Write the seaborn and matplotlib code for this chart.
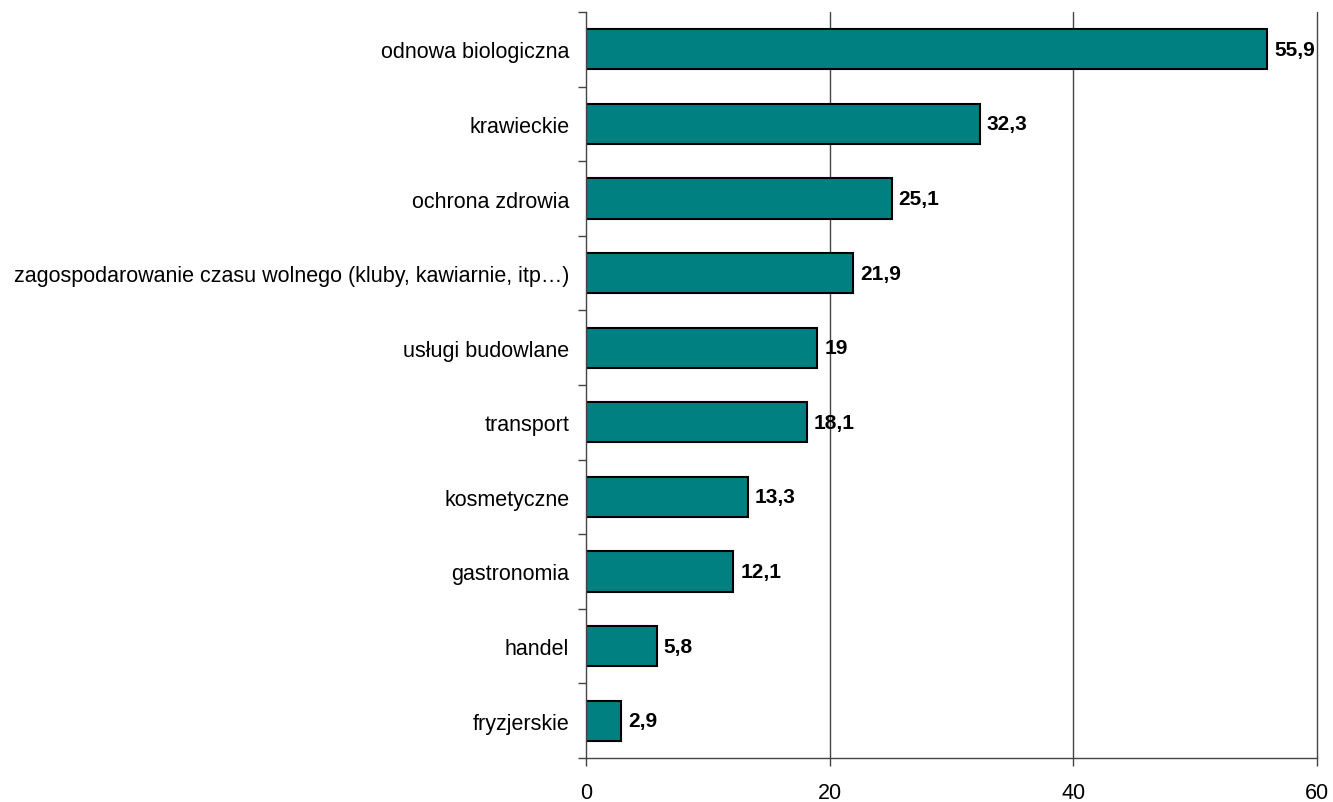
import matplotlib
matplotlib.use('Agg')
import matplotlib.pyplot as plt
import seaborn as sns
import pandas as pd
import numpy as np
from matplotlib.ticker import FixedLocator

# dane z wykresu
categories = [
    'odnowa biologiczna',
    'krawieckie',
    'ochrona zdrowia',
    'zagospodarowanie czasu wolnego (kluby, kawiarnie, itp…)',
    'usługi budowlane',
    'transport',
    'kosmetyczne',
    'gastronomia',
    'handel',
    'fryzjerskie',
]
values = [55.9, 32.3, 25.1, 21.9, 19, 18.1, 13.3, 12.1, 5.8, 2.9]
value_labels = ['55,9', '32,3', '25,1', '21,9', '19', '18,1', '13,3', '12,1', '5,8', '2,9']
x_ticks = [0, 20, 40, 60]

df = pd.DataFrame({'kategoria': categories, 'wartosc': values})

sns.set_style('white')
plt.rcParams['font.family'] = ['Liberation Sans', 'DejaVu Sans']
plt.rcParams['text.color'] = 'black'
plt.rcParams['xtick.color'] = '#444444'
plt.rcParams['ytick.color'] = '#444444'
plt.rcParams['xtick.labelcolor'] = 'black'
plt.rcParams['ytick.labelcolor'] = 'black'

fig = plt.figure(figsize=(13.33, 8.03), dpi=100)
ax = fig.add_axes([0.4396, 0.0548, 0.988 - 0.4396, 0.9838 - 0.0548])

sns.barplot(data=df, y='kategoria', x='wartosc', orient='h', color='#008080',
            edgecolor='black', linewidth=1.5, width=0.54, saturation=1, ax=ax)

ax.set_xlim(0, 60)
ax.set_ylim(len(categories) - 0.5, -0.5)
ax.set_xticks(x_ticks)
ax.set_xticklabels([str(t) for t in x_ticks], fontsize=15.5)
ax.set_xlabel('')
ax.set_ylabel('')

# linie siatki
for t in x_ticks[1:]:
    ax.axvline(t, color='#444444', linewidth=1, zorder=0, clip_on=False)

for s in ['top', 'right']:
    ax.spines[s].set_visible(False)
for s in ['left', 'bottom']:
    ax.spines[s].set_color('#444444')
    ax.spines[s].set_linewidth(1)

ax.tick_params(axis='y', which='major', left=False, length=0, labelsize=15.5, pad=12)
ax.yaxis.set_minor_locator(FixedLocator(np.arange(-0.5, len(categories), 1)))
ax.tick_params(axis='y', which='minor', left=True, length=6, width=1, direction='out')
ax.tick_params(axis='x', which='major', bottom=True, length=6, width=1, direction='out', pad=11)

for i, (v, lab) in enumerate(zip(values, value_labels)):
    ax.annotate(lab, xy=(v, i), xytext=(5, 0), textcoords='offset points',
                va='center', ha='left', fontsize=15, fontweight='bold')

fig.savefig('out.png', dpi=100)
